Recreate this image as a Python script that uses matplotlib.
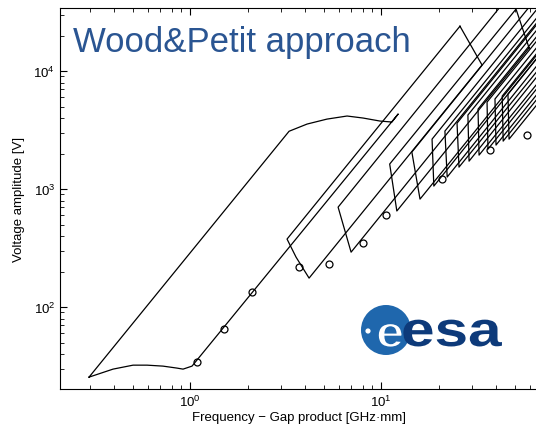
import matplotlib.pyplot as plt
from matplotlib.patches import Circle, PathPatch
from matplotlib.textpath import TextPath
from matplotlib.font_manager import FontProperties
from matplotlib.transforms import Affine2D

plt.rcParams['font.family'] = ['Liberation Sans', 'DejaVu Sans']
plt.rcParams['mathtext.fontset'] = 'custom'
plt.rcParams['mathtext.rm'] = 'Liberation Sans'
plt.rcParams['mathtext.it'] = 'Liberation Sans:italic'

# zone 1 (closed boundary)
z1_fd = [0.296, 3.30, 4.10, 5.21, 6.64, 8.05, 9.88, 11.4, 12.3,
         1.024, 0.919, 0.855, 0.722, 0.596, 0.503, 0.395, 0.296]
z1_v = [25.5, 3090, 3556, 3917, 4160, 4000, 3770, 3700, 4330,
        31.6, 29.8, 30.4, 31.6, 32.2, 32.2, 29.8, 25.5]

# zone 3 (closed boundary)
z3_fd = [25.9, 3.22, 3.59, 4.20, 33.8, 25.9]
z3_v = [24000, 377, 265, 176, 11250, 24000]

# zone 7 (closed near the top right corner)
z7_fd = [59.6, 50.9, 11.1, 12.1, 59.6]
z7_v = [15700, 33500, 1630, 652, 15700]

# other zones: upper-left corner, lower-left corner and far ends of both lines
zone_ul_fd = [5.96, 14.5, 18.5, 21.6, 25.0, 28.5, 32.2, 35.9, 39.5, 43.1, 46.2]
zone_ul_v = [703, 2060, 2650, 3100, 3620, 4240, 4760, 5460, 5800, 6140, 6380]
zone_ll_fd = [6.97, 16.0, 18.9, 22.2, 25.6, 28.9, 32.6, 36.3, 40.0, 43.6, 46.8]
zone_ll_v = [292, 822, 1060, 1265, 1535, 1725, 1940, 2180, 2360, 2550, 2650]
zone_up_end_v = [1.98e5, 9.8e4, 7.8e4, 6.6e4, 5.8e4, 5.2e4, 4.6e4, 4.2e4, 3.7e4, 3.3e4, 3.0e4]
zone_lo_end_v = [6.0e4, 3.2e4, 3.0e4, 2.6e4, 2.3e4, 2.1e4, 1.8e4, 1.66e4, 1.48e4, 1.35e4, 1.21e4]
end_fd = 100

# measured points (open circles)
pts_fd = [1.09, 1.51, 2.11, 3.72, 5.34, 8.05, 10.6, 20.9, 37.2, 58.1]
pts_v = [34.2, 65.2, 134, 218, 231, 348, 603, 1216, 2140, 2871]

fig = plt.figure(figsize=(5.36, 4.31), dpi=100)
ax = fig.add_axes([0.112, 0.095, 0.893, 0.884])

lw = 0.9
ax.plot(z1_fd, z1_v, color='black', lw=lw)
ax.plot(z3_fd, z3_v, color='black', lw=lw)
ax.plot(z7_fd, z7_v, color='black', lw=lw)
for i in range(len(zone_ul_fd)):
    xs = [end_fd, zone_ul_fd[i], zone_ll_fd[i], end_fd]
    ys = [zone_up_end_v[i], zone_ul_v[i], zone_ll_v[i], zone_lo_end_v[i]]
    ax.plot(xs, ys, color='black', lw=lw)

ax.plot(pts_fd, pts_v, 'o', mfc='none', mec='black', ms=5, mew=0.9)

ax.set_xscale('log')
ax.set_yscale('log')
ax.set_xlim(0.2086, 66.9)
ax.set_ylim(20.2, 34200)
ax.tick_params(which='both', direction='in', top=True, right=False, labelsize=9.5)
ax.tick_params(which='major', length=5)
ax.tick_params(which='minor', length=3)
ax.spines['right'].set_visible(False)

ax.set_xlabel('Frequency \u2212 Gap product [GHz\u00b7mm]', fontsize=9.5, labelpad=1)
ax.set_ylabel('Voltage amplitude [V]', fontsize=9.5, labelpad=6)

ax.text(0.028, 0.955, 'Wood&Petit approach', transform=ax.transAxes, fontsize=25,
        color='#2a5592', ha='left', va='top')

# esa logo (pixel coordinates from bottom-left of the figure)
H = 431
bold = FontProperties(family='Liberation Sans', weight='bold')
fig.patches.append(Circle((386, H - 331), 25, transform=None, facecolor='#1f67ad',
                          edgecolor='none', zorder=5))
fig.patches.append(Circle((368, H - 332), 2.6, transform=None, facecolor='white',
                          edgecolor='none', zorder=6))
e_path = TextPath((0, 0), 'e', size=44, prop=bold)
fig.patches.append(PathPatch(e_path, transform=Affine2D().scale(1.15, 1.0).translate(376, H - 348),
                             facecolor='white', edgecolor='#1f67ad', lw=1.2, zorder=7))
esa_path = TextPath((0, 0), 'esa', size=49, prop=bold)
fig.patches.append(PathPatch(esa_path, transform=Affine2D().scale(1.23, 1.0).translate(401, H - 347),
                             facecolor='#0d3a7a', edgecolor='none', zorder=6))

fig.savefig('out.png', dpi=100)
